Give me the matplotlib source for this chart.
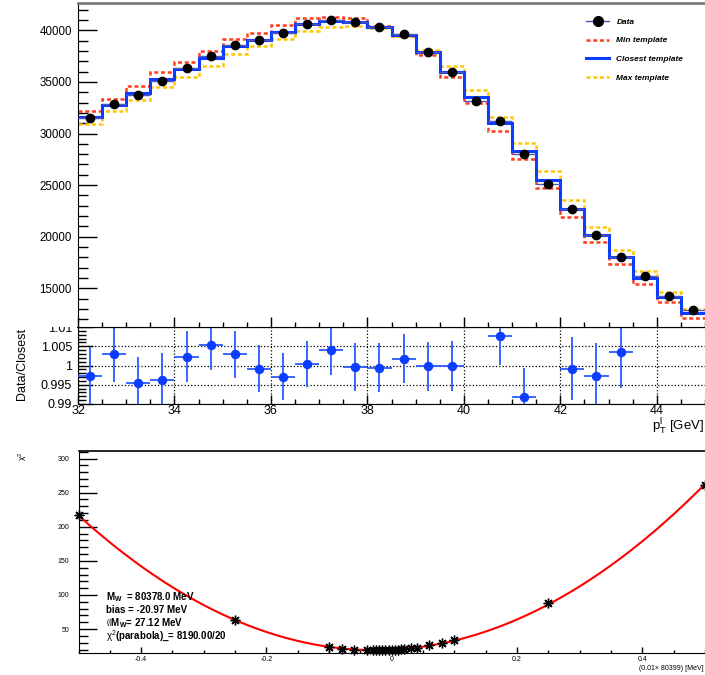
import numpy as np
import matplotlib.pyplot as plt
from matplotlib.lines import Line2D
from matplotlib.patches import Rectangle
from matplotlib.ticker import MultipleLocator, FixedLocator, FuncFormatter

plt.rcParams['font.family'] = ['Liberation Sans', 'DejaVu Sans']
plt.rcParams['mathtext.fontset'] = 'custom'
plt.rcParams['mathtext.rm'] = 'Liberation Sans'
plt.rcParams['mathtext.it'] = 'Liberation Sans:italic'
plt.rcParams['mathtext.bf'] = 'Liberation Sans:bold'
plt.rcParams['axes.unicode_minus'] = False

# lepton pT binning [GeV]
bin_edges = np.arange(32.0, 45.5, 0.5)

data_counts = [31530, 32880, 33750, 35120, 36360, 37530, 38540, 39050, 39730, 40620,
               41030, 40800, 40340, 39600, 37860, 35990, 33160, 31235, 28060, 25150,
               22660, 20120, 18060, 16220, 14300, 12850]
min_template = [32216, 33378, 34574, 35930, 36899, 37997, 39128, 39709, 40485, 41227,
                41324, 41163, 40420, 39483, 37610, 35510, 32926, 30245, 27532, 24689,
                21944, 19470, 17400, 15400, 13660, 12130]
closest_template = [31602, 32797, 33895, 35252, 36286, 37351, 38450, 39096, 39839, 40614,
                    40904, 40840, 40355, 39548, 37868, 35995, 33572, 30988, 28307, 25465,
                    22687, 20160, 18000, 16000, 14160, 12650]
max_template = [30924, 32151, 33249, 34541, 35510, 36576, 37674, 38450, 39193, 39903,
                40291, 40420, 40194, 39483, 38094, 36512, 34251, 31634, 29115, 26369,
                23559, 20975, 18690, 16630, 14643, 13010]

# data / closest template (nan = outside the displayed range)
nan = np.nan
ratio = [0.99737, 1.00288, 0.99534, 0.99636, 1.00229, 1.00525, 1.00288, 0.99915, 0.99712, 1.00042,
         1.00398, 0.99966, 0.99941, 1.00178, 0.99975, 0.99975, nan, 1.00754, 0.99186, nan,
         0.99915, 0.99737, 1.00339, nan, nan, nan]
ratio_err = [0.0075, 0.0072, 0.0068, 0.0068, 0.0067, 0.0065, 0.0062, 0.0061, 0.0061, 0.0060,
             0.0064, 0.0062, 0.0064, 0.0063, 0.0064, 0.0065, nan, 0.0073, 0.0075, nan,
             0.0082, 0.0086, 0.0093, nan, nan, nan]

# chi2 scan over the W mass shift, in units of 0.01 x reference mass
mw_ref = 80399.0
mass_shift = [-0.5, -0.25, -0.1, -0.08, -0.06, -0.04, -0.03, -0.025, -0.02, -0.015, -0.01,
              -0.005, 0.0, 0.005, 0.01, 0.015, 0.02, 0.03, 0.04, 0.06, 0.08, 0.1, 0.25, 0.5]
chi2_scan = [216.6, 62.8, 23.6, 21.1, 19.9, 19.3, 19.1, 19.0, 19.0, 19.0, 19.2,
             19.4, 19.6, 19.8, 20.1, 20.5, 20.8, 21.8, 22.9, 26.2, 29.5, 33.9, 88.0, 261.0]
mw_fit = 80378.0
bias = -20.97
sigma_mw = 27.12
chi2_min = 19.2
chi2_ndf = "8190.00/20"

centers = 0.5 * (bin_edges[:-1] + bin_edges[1:])
half_width = 0.5 * np.diff(bin_edges)

RED = '#ff3d1f'
YELLOW = '#ffc600'
BLUE = '#0b3cff'
DATA_LINE = '#5656b8'
dash = (0, (1.6, 1.1))

fig = plt.figure(figsize=(7.05, 6.75), dpi=100)
W, H = 705.0, 675.0

# ratio pad first so the main pad is drawn over it
ax_r = fig.add_axes([78 / W, 1 - 404 / H, 1 - 78 / W, 77 / H])
ax = fig.add_axes([78 / W, 1 - 327 / H, 1 - 78 / W, 324 / H])
ax_c = fig.add_axes([78.5 / W, 1 - 653 / H, 1 - 78.5 / W, 202 / H])

# ---- main pad: templates and data
ax.stairs(min_template, bin_edges, baseline=None, color=RED, lw=1.8, linestyle=dash, zorder=2)
ax.stairs(max_template, bin_edges, baseline=None, color=YELLOW, lw=1.8, linestyle=dash, zorder=2)
ax.stairs(closest_template, bin_edges, baseline=None, color=BLUE, lw=2.2, zorder=3)
ax.errorbar(centers, data_counts, xerr=half_width, fmt='o', color='black', ms=6,
            ecolor=DATA_LINE, elinewidth=1.0, capsize=0, zorder=4)

ax.set_xlim(32, 45)
ax.set_ylim(11250, 42650)
ax.yaxis.set_major_locator(MultipleLocator(5000))
ax.yaxis.set_minor_locator(MultipleLocator(1000))
ax.xaxis.set_major_locator(MultipleLocator(2))
ax.xaxis.set_minor_locator(MultipleLocator(0.5))
ax.tick_params(axis='y', which='major', direction='in', length=14, width=1, labelsize=8.3, pad=4.5)
ax.tick_params(axis='y', which='minor', direction='in', length=7, width=1)
ax.tick_params(axis='x', which='major', direction='in', length=7, width=1, labelbottom=False)
ax.tick_params(axis='x', which='minor', direction='in', length=3.6, width=1)
ax.spines['right'].set_visible(False)
ax.spines['top'].set_color('#7a7a7a')
ax.spines['top'].set_linewidth(2)

handles = [
    Line2D([], [], color=DATA_LINE, lw=1, marker='o', mfc='black', mec='black', ms=7),
    Line2D([], [], color=RED, lw=1.8, linestyle=dash),
    Line2D([], [], color=BLUE, lw=2.2),
    Line2D([], [], color=YELLOW, lw=1.8, linestyle=dash),
]
labels = ['Data', 'Min template', 'Closest template', 'Max template']
ax.legend(handles, labels, loc='upper left', bbox_to_anchor=(586 / W, 1 - 18 / H),
          bbox_transform=fig.transFigure, frameon=False,
          prop={'style': 'italic', 'weight': 'bold', 'size': 6.0},
          handlelength=2.8, handletextpad=0.85, labelspacing=1.3,
          borderpad=0, borderaxespad=0)

# the main pad hides the top of the ratio axis labels
ax.add_patch(Rectangle((0, 1 - 327 / H), 78 / W, 18 / H, transform=fig.transFigure,
                       facecolor='white', edgecolor='none', clip_on=False, zorder=0))

# ---- ratio pad
ax_r.errorbar(centers, ratio, xerr=half_width, yerr=ratio_err, fmt='o', color=BLUE,
              ms=5.8, ecolor='#2a5bff', elinewidth=1.3, capsize=0, zorder=3)
ax_r.set_xlim(32, 45)
ax_r.set_ylim(0.99, 1.01)
ax_r.yaxis.set_major_locator(FixedLocator([0.99, 0.995, 1.0, 1.005, 1.01]))
ax_r.yaxis.set_minor_locator(MultipleLocator(0.001))
ax_r.yaxis.set_major_formatter(FuncFormatter(lambda v, p: f'{v:g}'))
ax_r.xaxis.set_major_locator(MultipleLocator(2))
ax_r.xaxis.set_minor_locator(MultipleLocator(0.5))
ax_r.tick_params(axis='y', which='major', direction='in', length=10.8, width=1, labelsize=9, pad=4.3)
ax_r.tick_params(axis='y', which='minor', direction='in', length=5.5, width=1)
ax_r.tick_params(axis='x', which='major', direction='in', length=6.7, width=1, labelsize=9, pad=1)
ax_r.tick_params(axis='x', which='minor', direction='in', length=3.6, width=1)
ax_r.grid(True, which='major', linestyle=':', color='black', lw=0.9)
ax_r.spines['right'].set_visible(False)
ax_r.spines['top'].set_linewidth(1.5)

fig.text(22 / W, 1 - 364 / H, 'Data/Closest', rotation=90, ha='center', va='center', fontsize=9)
fig.text(704 / W, 1 - 427 / H, r'$\mathrm{p}^{\mathrm{l}}_{\mathrm{T}}$ [GeV]',
         ha='right', va='center', fontsize=9.5)

# ---- chi2 scan pad
x0 = bias / (0.01 * mw_ref)
curv = (0.01 * mw_ref / sigma_mw) ** 2
xs = np.linspace(-0.5, 0.5, 400)
ax_c.plot(xs, curv * (xs - x0) ** 2 + chi2_min, color='#ff0000', lw=1.5, zorder=2)
ax_c.plot(mass_shift, chi2_scan, linestyle='none', marker=(8, 2, 0), ms=7,
          mec='black', mew=1.0, color='black', clip_on=False, zorder=3)

ax_c.set_xlim(-0.5, 0.5)
ax_c.set_ylim(15, 311)
ax_c.xaxis.set_major_locator(MultipleLocator(0.2))
ax_c.xaxis.set_minor_locator(MultipleLocator(0.05))
ax_c.xaxis.set_major_formatter(FuncFormatter(lambda v, p: f'{v:g}' if abs(v) > 1e-9 else '0'))
ax_c.yaxis.set_major_locator(MultipleLocator(50))
ax_c.yaxis.set_minor_locator(MultipleLocator(10))
ax_c.tick_params(axis='y', which='major', direction='in', length=13, width=1, labelsize=5, pad=6.5)
ax_c.tick_params(axis='y', which='minor', direction='in', length=6.5, width=1)
ax_c.tick_params(axis='x', which='major', direction='in', length=4.3, width=1, labelsize=5, pad=2)
ax_c.tick_params(axis='x', which='minor', direction='in', length=2.4, width=1)
ax_c.spines['right'].set_visible(False)
ax_c.spines['top'].set_linewidth(1.2)

info = [
    rf'M$_{{\mathbf{{W}}}}$  = {mw_fit:.1f} MeV',
    f'bias = {bias:.2f} MeV',
    rf'$\emptyset$M$_{{\mathbf{{W}}}}$= {sigma_mw:.2f} MeV',
    rf'$\mathrm{{\chi}}^{{2}}$(parabola)_= {chi2_ndf}',
]
for i, line in enumerate(info):
    ax_c.text(0.044, 0.277 - 0.0643 * i, line, transform=ax_c.transAxes, ha='left',
              va='center', fontsize=7, fontweight='bold')

fig.text(23 / W, 1 - 456 / H, r'$\mathrm{\chi}^{2}$', rotation=90, ha='center', va='center', fontsize=6)
fig.text(704 / W, 1 - 669 / H, f'(0.01\u00d7 {mw_ref:.0f}) [MeV]', ha='right', va='center', fontsize=5)

fig.savefig('out.png', dpi=100)
